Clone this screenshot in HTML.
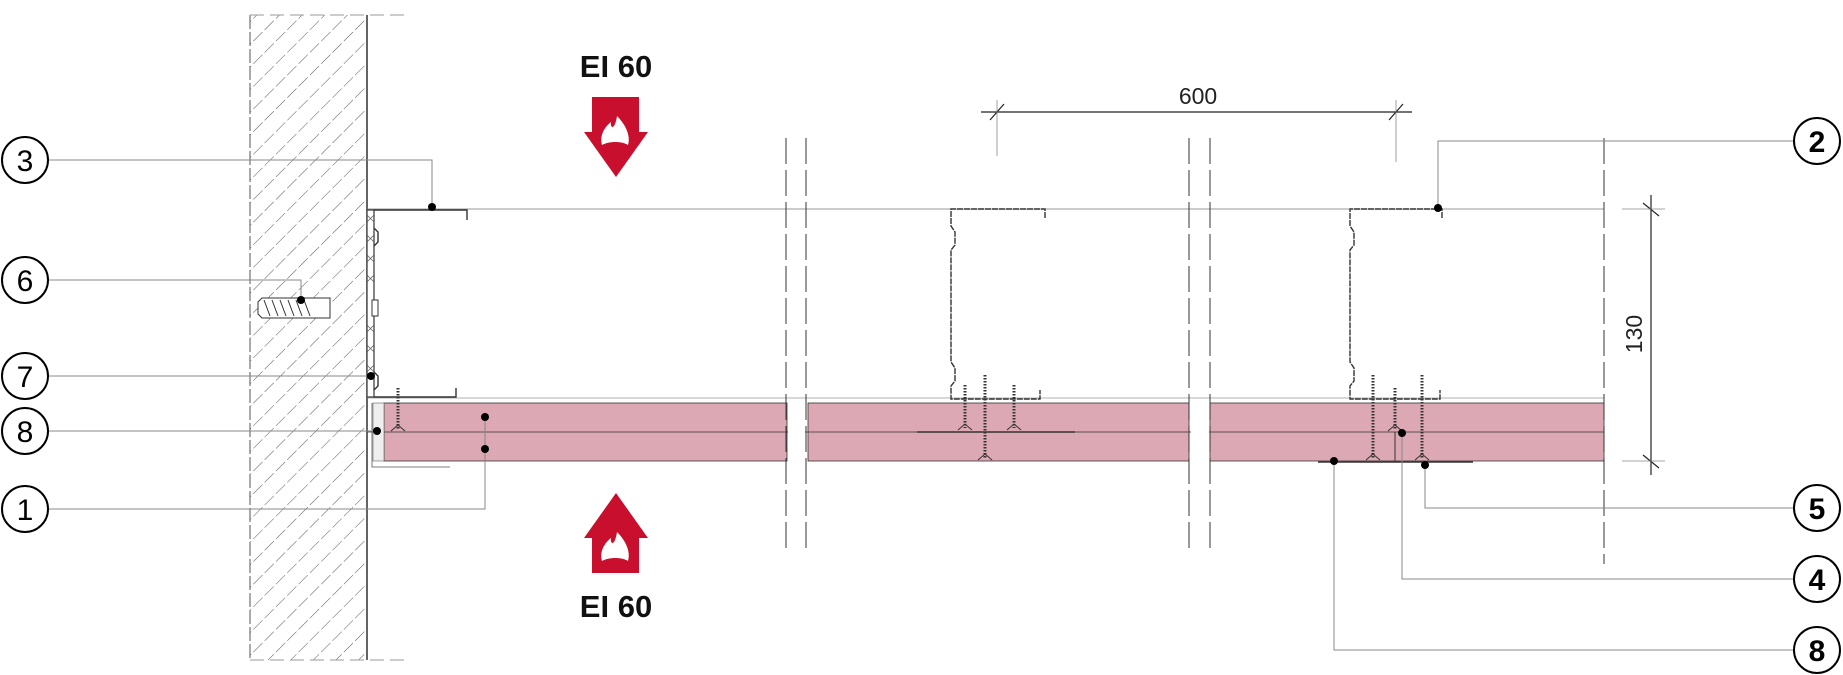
<!DOCTYPE html>
<html><head><meta charset="utf-8"><style>
html,body{margin:0;padding:0;background:#fff;}
svg{display:block;}
text{font-family:"Liberation Sans",sans-serif;}
</style></head><body>
<svg width="1843" height="675" viewBox="0 0 1843 675" xmlns="http://www.w3.org/2000/svg">
<defs>
<pattern id="hatch" width="16" height="16" patternUnits="userSpaceOnUse" patternTransform="rotate(45)">
<line x1="0" y1="0" x2="0" y2="16" stroke="#444" stroke-width="0.9" stroke-dasharray="10 3"/>
</pattern>
</defs>
<!-- wall -->
<rect x="250" y="15" width="117" height="645" fill="url(#hatch)"/>
<line x1="250" y1="15" x2="250" y2="660" stroke="#555" stroke-width="1" stroke-dasharray="14 3"/>
<line x1="367" y1="15" x2="367" y2="660" stroke="#222" stroke-width="1.4"/>
<line x1="250" y1="15" x2="405" y2="15" stroke="#999" stroke-width="1" stroke-dasharray="14 6"/>
<line x1="250" y1="660" x2="405" y2="660" stroke="#999" stroke-width="1" stroke-dasharray="14 6"/>

<line x1="367" y1="209" x2="1604" y2="209" stroke="#777" stroke-width="0.8"/>
<line x1="367" y1="398" x2="1604" y2="398" stroke="#999" stroke-width="0.8"/>

<g fill="#dca8b3" stroke="#333" stroke-width="0.8">
<rect x="384" y="403" width="403" height="58"/>
<rect x="808" y="403" width="381" height="58"/>
<rect x="1210" y="403" width="394" height="58"/>
</g>
<line x1="367" y1="432" x2="1604" y2="432" stroke="#333" stroke-width="0.7"/>
<rect x="373" y="403" width="11" height="58" fill="#eee" stroke="#666" stroke-width="0.6"/>
<path d="M372 403 V467 H450" fill="none" stroke="#555" stroke-width="0.8"/>

<g stroke="#333" stroke-width="1" stroke-dasharray="26 6">
<line x1="786" y1="138" x2="786" y2="550"/>
<line x1="806" y1="138" x2="806" y2="550"/>
<line x1="1189" y1="138" x2="1189" y2="550"/>
<line x1="1210" y1="138" x2="1210" y2="550"/>
<line x1="1604" y1="138" x2="1604" y2="564"/>
</g>
<rect x="788" y="403" width="17" height="58" fill="#fff"/>
<rect x="1191" y="403" width="18" height="58" fill="#fff"/>

<!-- wall track -->
<rect x="367" y="210" width="7" height="187" fill="#fff" stroke="#333" stroke-width="1.2"/>
<path d="M367 215 L374 222 M374 215 L367 222 M367 235 L374 242 M374 235 L367 242 M367 255 L374 262 M374 255 L367 262 M367 275 L374 282 M374 275 L367 282 M367 325 L374 332 M374 325 L367 332 M367 345 L374 352 M374 345 L367 352 M367 365 L374 372 M374 365 L367 372" stroke="#555" stroke-width="0.7"/>
<g fill="none" stroke="#333" stroke-width="1.4">
<path d="M374 210 H467 V220 M374 397 H456 V388"/>
<path d="M374 228 L378 232 V242 L374 246 M374 372 L378 376 V386 L374 390"/>
</g>
<!-- studs -->
<g fill="none" stroke="#333" stroke-width="1.4" stroke-dasharray="6 1">
<path d="M1045 218 V209 H951 V226 L955 232 V245 L951 250 V362 L955 368 V381 L951 386 V399 H1040 V390"/>
<path d="M1442 218 V209 H1350 V226 L1354 232 V245 L1350 250 V362 L1354 368 V381 L1350 386 V399 H1440 V390"/>
</g>
<!-- anchor -->
<g stroke="#333" stroke-width="1" fill="#fff">
<path d="M258 302 L262 298 H330 V318 H262 L258 314 Z"/>
<path d="M264 300 L270 316 M272 300 L278 316 M280 300 L286 316 M288 300 L294 316 M296 300 L302 316 M304 300 L310 316" fill="none"/>
<rect x="372" y="300" width="6" height="16"/>
</g>
<g stroke="#333" stroke-width="1.6">
<line x1="917" y1="432" x2="1075" y2="432"/>
<line x1="1318" y1="462" x2="1473" y2="462"/>
</g>
<g stroke="#333" stroke-width="3" stroke-dasharray="1.5 1.5">
<line x1="398" y1="388" x2="398" y2="430"/>
<line x1="965" y1="385" x2="965" y2="428"/>
<line x1="985" y1="375" x2="985" y2="458"/>
<line x1="1014" y1="385" x2="1014" y2="428"/>
<line x1="1373" y1="375" x2="1373" y2="458"/>
<line x1="1395" y1="388" x2="1395" y2="430"/>
<line x1="1422" y1="375" x2="1422" y2="458"/>
</g>
<g stroke="#333" stroke-width="1" fill="none">
<path d="M391 431 L398 425 L405 431 M958 430 L965 424 L972 430 M1007 430 L1014 424 L1021 430 M978 460 L985 454 L992 460 M1366 460 L1373 454 L1380 460 M1415 460 L1422 454 L1429 460 M1388 431 L1395 425 L1402 431"/>
<line x1="1395" y1="432" x2="1395" y2="461"/>
</g>

<g stroke="#222" stroke-width="1.2">
<line x1="981" y1="112" x2="1412" y2="112"/>
<line x1="990" y1="120" x2="1004" y2="104"/>
<line x1="1389" y1="120" x2="1403" y2="104"/>
<line x1="1651" y1="195" x2="1651" y2="475"/>
<line x1="1643" y1="203" x2="1659" y2="216"/>
<line x1="1643" y1="455" x2="1659" y2="468"/>
</g>
<g stroke="#888" stroke-width="0.8">
<line x1="997" y1="100" x2="997" y2="156"/>
<line x1="1396" y1="100" x2="1396" y2="162"/>
<line x1="1622" y1="209" x2="1665" y2="209"/>
<line x1="1622" y1="461" x2="1665" y2="461"/>
</g>
<text x="1198" y="104" font-size="23" text-anchor="middle" fill="#222">600</text>
<text transform="translate(1642,334) rotate(-90)" font-size="23" text-anchor="middle" fill="#222">130</text>

<g fill="#c8102e">
<path d="M592 97 H639 V132 H648 L616 177 L584 132 H592 Z"/>
<path d="M592 573 H639 V538 H648 L616 493 L584 538 H592 Z"/>
</g>
<g fill="#fff">
<path d="M602 145 C599 134 606 126 611 122 C610 129 615 130 617 116 C625 124 631 135 628 145 C622 141 609 141 602 145 Z"/>
<path d="M602 561 C599 550 606 542 611 538 C610 545 615 546 617 532 C625 540 631 551 628 561 C622 557 609 557 602 561 Z"/>
</g>
<text x="616" y="77" font-size="31" font-weight="bold" text-anchor="middle" fill="#111">EI 60</text>
<text x="616" y="617" font-size="31" font-weight="bold" text-anchor="middle" fill="#111">EI 60</text>

<g stroke="#888" stroke-width="1" fill="none">
<path d="M48 160 H432 V207"/>
<path d="M48 280 H301 V300"/>
<path d="M48 376 H371"/>
<path d="M48 431 H377"/>
<path d="M48 509 H485 V417"/>
<path d="M1794 141 H1438 V208"/>
<path d="M1794 508 H1425 V465"/>
<path d="M1794 579 H1402 V433"/>
<path d="M1794 650 H1334 V461"/>
</g>
<g fill="#000">
<circle cx="432" cy="207" r="4"/><circle cx="301" cy="300" r="4"/><circle cx="371" cy="376" r="4"/>
<circle cx="377" cy="431" r="4"/><circle cx="485" cy="417" r="4"/><circle cx="485" cy="449" r="4"/>
<circle cx="1438" cy="208" r="4"/><circle cx="1425" cy="465" r="4"/><circle cx="1402" cy="433" r="4"/><circle cx="1334" cy="461" r="4"/>
</g>
<g fill="#fff" stroke="#000" stroke-width="2">
<circle cx="25" cy="160" r="23"/><circle cx="25" cy="280" r="23"/><circle cx="25" cy="376" r="23"/>
<circle cx="25" cy="431" r="23"/><circle cx="25" cy="509" r="23"/>
<circle cx="1817" cy="141" r="23"/><circle cx="1817" cy="508" r="23"/><circle cx="1817" cy="579" r="23"/><circle cx="1817" cy="650" r="23"/>
</g>
<g font-size="30" text-anchor="middle" fill="#000">
<text x="25" y="171">3</text><text x="25" y="291">6</text><text x="25" y="387">7</text>
<text x="25" y="442">8</text><text x="25" y="520">1</text>
<text x="1817" y="152" font-weight="bold">2</text><text x="1817" y="519" font-weight="bold">5</text>
<text x="1817" y="590" font-weight="bold">4</text><text x="1817" y="661" font-weight="bold">8</text>
</g>
</svg>
</body></html>
